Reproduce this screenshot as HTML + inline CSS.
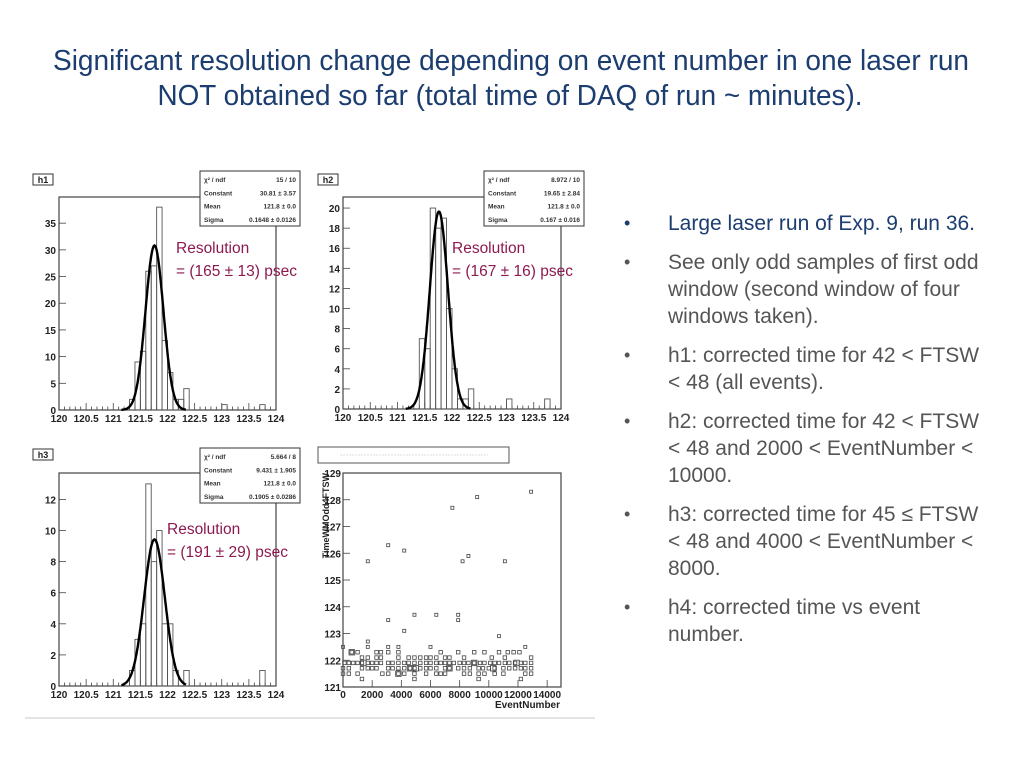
<!DOCTYPE html>
<html><head><meta charset="utf-8"><style>
html,body{margin:0;padding:0;background:#fff;}
body{width:1024px;height:768px;overflow:hidden;position:relative;font-family:"Liberation Sans",sans-serif;}
#bul{position:absolute;left:624px;top:210px;width:366px;font-size:21px;line-height:27px;color:#555;}
#bul .it{position:relative;padding-left:44px;margin-bottom:12px;}
#bul .it:before{content:"\2022";position:absolute;left:0;top:0;font-size:18px;}
</style></head><body>
<svg id="s" width="1024" height="768" style="position:absolute;left:0;top:0">
<text x="511" y="70" text-anchor="middle" font-size="29" fill="#1b3d6f" textLength="916" lengthAdjust="spacingAndGlyphs">Significant resolution change depending on event number in one laser run</text>
<text x="510" y="105" text-anchor="middle" font-size="29" fill="#1b3d6f" textLength="705" lengthAdjust="spacingAndGlyphs">NOT obtained so far (total time of DAQ of run ~ minutes).</text>
<line x1="25" y1="718" x2="595" y2="718" stroke="#e4e4e4" stroke-width="2"/>
</svg>
<div id="bul">
<div class="it" style="color:#1b3d6f">Large laser run of Exp. 9, run 36.</div>
<div class="it">See only odd samples of first odd window (second window of four windows taken).</div>
<div class="it">h1: corrected time for 42 &lt; FTSW &lt; 48 (all events).</div>
<div class="it">h2: corrected time for 42 &lt; FTSW &lt; 48 and 2000 &lt; EventNumber &lt; 10000.</div>
<div class="it">h3: corrected time for 45 ≤ FTSW &lt; 48 and 4000 &lt; EventNumber &lt; 8000.</div>
<div class="it">h4: corrected time vs event number.</div>
</div>
<script>
const h1BinLow=[121.3,121.4,121.5,121.6,121.7,121.8,121.9,122.0,122.1,122.2,122.3,123.0,123.7];
const h1Counts=[2,9,11,26,27,38,13,7,2,2,4,1,1];
const h1Fit=[30.81,121.76,0.1648];
const h1Stats=[["χ² / ndf","15 / 10"],["Constant","30.81 ± 3.57"],["Mean","121.8 ± 0.0"],["Sigma","0.1648 ± 0.0126"]];
const h1YTicks=[0,5,10,15,20,25,30,35];
const h2BinLow=[121.4,121.5,121.6,121.7,121.8,121.9,122.0,122.1,122.2,122.3,123.0,123.7];
const h2Counts=[7,6,20,18,19,10,4,1,1,2,1,1];
const h2Fit=[19.65,121.76,0.167];
const h2Stats=[["χ² / ndf","8.972 / 10"],["Constant","19.65 ± 2.84"],["Mean","121.8 ± 0.0"],["Sigma","0.167 ± 0.016"]];
const h2YTicks=[0,2,4,6,8,10,12,14,16,18,20];
const h3BinLow=[121.3,121.4,121.5,121.6,121.7,121.8,121.9,122.0,122.1,122.3,123.7];
const h3Counts=[1,3,4,13,8,10,4,4,1,1,1];
const h3Fit=[9.431,121.76,0.1905];
const h3Stats=[["χ² / ndf","5.664 / 8"],["Constant","9.431 ± 1.905"],["Mean","121.8 ± 0.0"],["Sigma","0.1905 ± 0.0286"]];
const h3YTicks=[0,2,4,6,8,10,12];
const timeXTicks=[120,120.5,121,121.5,122,122.5,123,123.5,124];
const timeXLabels=["120","120.5","121","121.5","122","122.5","123","123.5","124"];
const h4Outliers=[[1700,125.7],[3100,126.3],[4200,126.1],[7500,127.7],[9200,128.1],[12900,128.3],[8200,125.7],[8600,125.9],[11100,125.7],[3100,123.5],[4200,123.1],[4900,123.7],[6400,123.7],[7900,123.7],[7900,123.5],[10700,122.9],[1700,122.7],[1700,122.5],[3100,122.5],[3800,122.5],[6000,122.5],[12500,122.5],[0,122.5]];
const h4Row1223=[600,1000,2300,2600,3100,3800,6700,7900,9000,9700,10700,11300,11700,12100];
const h4Row1221=[1300,1700,2300,2600,3800,4500,4900,5300,5700,6000,6400,7000,7300,8300,10200,11100,12900];
const h4Row1219=[100,400,700,1000,1300,1700,2000,2300,2600,3100,3400,3800,4200,4500,4900,5300,5700,6000,6400,6700,7000,7300,7600,8000,8300,8600,9000,9400,9700,10100,10400,10700,11100,11400,11800,12200,12500,12900];
const h4Row1217=[0,400,1300,1700,2000,2300,3100,3400,3800,4200,4600,4900,5300,5700,6000,6400,7000,7300,7900,8300,8700,9300,9600,10000,10400,11000,11400,11800,12200,12500,12900];
const h4Row1215=[0,400,1000,2700,3100,3800,4200,4900,5700,6400,6700,7000,8300,8700,9300,9700,10400,11000,12500,12900];
const h4Row1213=[1300,4900,9300,12200];
const h4Big=[[600,122.3],[1400,121.9],[4600,121.7],[5000,121.7],[7300,121.7],[9000,121.9],[10300,121.7],[11900,121.9],[3800,121.5]];
const h4XTicks=[0,2000,4000,6000,8000,10000,12000,14000];
const h4YTicks=[121,122,123,124,125,126,127,128,129];

const NS="http://www.w3.org/2000/svg";
const svg=document.getElementById('s');
function mk(tag,at,parent){const e=document.createElementNS(NS,tag);for(const k in at)e.setAttribute(k,at[k]);(parent||svg).appendChild(e);return e;}
function txt(x,y,s,at,parent){const e=mk('text',Object.assign({x:x,y:y},at),parent);e.textContent=s;return e;}

function frame(name,L,T,R,B){
  const g=mk('g',{});
  
  
  const r=mk('rect',{x:L,y:T,width:R-L,height:B-T,fill:'none',stroke:'#444','stroke-width':1.2},g);
  
  
  return g;
}
function label(name,x,y,w,s){
  const r=mk('rect',{x:x,y:y,width:w,height:11,fill:'#fff',stroke:'#333','stroke-width':1});
  
  
  const t=txt(x+w/2,y+9,s,{'text-anchor':'middle','font-size':9,'font-weight':'bold',fill:'#222'});
  
  
}
function statBox(name,x,y,stats){
  const g=mk('g',{});
  
  
  mk('rect',{x:x,y:y,width:100,height:55,fill:'#fff',stroke:'#333','stroke-width':1},g);
  stats.forEach((r,i)=>{
    const a=txt(x+4,y+11+i*13.3,r[0],{'font-size':6.5,'font-weight':'bold',fill:'#333'},g);
    
    
    const b=txt(x+96,y+11+i*13.3,r[1],{'font-size':6.5,'font-weight':'bold',fill:'#333','text-anchor':'end'},g);
    
    
  });
}
function resText(name,x,y,val){
  const a=txt(x,y,'Resolution',{'font-size':15.5,fill:'#8c1a50'});
  
  
  const b=txt(x,y+23,val,{'font-size':15.5,fill:'#8c1a50'});
  
  
}
function hist(id,L,T,R,B,ymax,binLow,counts,fit,yTicks){
  const g=frame(id+'-plot',L,T,R,B);
  const xs=v=>L+(v-120)/4*(R-L), ys=v=>B-v/ymax*(B-T);
  for(let k=0;k<=40;k++){const v=120+k*0.1,x=xs(v),len=(k%5==0)?7:3.5;
    mk('line',{x1:x,y1:B,x2:x,y2:B-len,stroke:'#444','stroke-width':0.8},g);}
  timeXTicks.forEach((v,i)=>{const t=txt(xs(v),B+12,timeXLabels[i],{'text-anchor':'middle','font-size':10,'font-weight':'bold',fill:'#222'},g);
    });
  yTicks.forEach(v=>{const y=ys(v);
    mk('line',{x1:L,y1:y,x2:L+7,y2:y,stroke:'#444','stroke-width':0.8},g);
    const t=txt(L-3,y+4,String(v),{'text-anchor':'end','font-size':10,'font-weight':'bold',fill:'#222'},g);
    });
  binLow.forEach((v,i)=>{const x0=xs(v),x1=xs(v+0.1),y=ys(counts[i]);
    const r=mk('rect',{x:x0,y:y,width:x1-x0,height:B-y,fill:'none',stroke:'#555','stroke-width':0.9},g);
    });
  let d='';
  for(let v=121.15;v<=122.35;v+=0.01){const y=fit[0]*Math.exp(-0.5*Math.pow((v-fit[1])/fit[2],2));d+=(d?'L':'M')+xs(v).toFixed(1)+','+ys(y).toFixed(1);}
  const p=mk('path',{d:d,fill:'none',stroke:'#000','stroke-width':2.4},g);
  
}
hist('h1',59,197,276,410,39.9,h1BinLow,h1Counts,h1Fit,h1YTicks);
label('h1-label',33,174,20,'h1');statBox('h1-stats',200,171,h1Stats);
resText('h1-resolution',176,253,'= (165 ± 13) psec');
hist('h2',343,197,561,409,21.1,h2BinLow,h2Counts,h2Fit,h2YTicks);
label('h2-label',318,174,20,'h2');statBox('h2-stats',484,171,h2Stats);
resText('h2-resolution',452,253,'= (167 ± 16) psec');
hist('h3',59,473,276,686,13.7,h3BinLow,h3Counts,h3Fit,h3YTicks);
label('h3-label',33,449,20,'h3');statBox('h3-stats',200,448,h3Stats);
resText('h3-resolution',167,534,'= (191 ± 29) psec');

(function(){
  const L=343,T=473,R=561,B=687;
  const g=frame('h4-plot',L,T,R,B);
  const xs=v=>L+v/14950*(R-L), ys=v=>B-(v-121)/8*(B-T);
  const tb=mk('rect',{x:318,y:447,width:191,height:16,fill:'#fff',stroke:'#555','stroke-width':1});
  
  mk('line',{x1:340,y1:455,x2:488,y2:455,stroke:'#bbb','stroke-width':0.6,'stroke-dasharray':'2,1'});
  h4XTicks.forEach(v=>{const x=xs(v);mk('line',{x1:x,y1:B,x2:x,y2:B-7,stroke:'#444','stroke-width':0.8},g);
    const t=txt(x,B+11,String(v),{'text-anchor':'middle','font-size':10,'font-weight':'bold',fill:'#222'},g);
    });
  h4YTicks.forEach(v=>{const y=ys(v);mk('line',{x1:L,y1:y,x2:L+7,y2:y,stroke:'#444','stroke-width':0.8},g);
    const t=txt(L-2,y+4,String(v),{'text-anchor':'end','font-size':10,'font-weight':'bold',fill:'#222'},g);
    });
  const xt=txt(560,708,'EventNumber',{'text-anchor':'end','font-size':10,'font-weight':'bold',fill:'#222'});
  
  const yt=txt(0,0,'TimeWMOdd4FTSW',{'text-anchor':'end','font-size':9,'font-weight':'bold',fill:'#222',transform:'translate(329,473) rotate(-90)'});
  
  function pt(x,y,s){const r=mk('rect',{x:xs(x)-s/2,y:ys(y)-s/2,width:s,height:s,fill:'none',stroke:'#444','stroke-width':0.8},g);
    }
  h4Outliers.forEach(p=>pt(p[0],p[1],3));
  [[h4Row1223,122.3],[h4Row1221,122.1],[h4Row1219,121.9],[h4Row1217,121.7],[h4Row1215,121.5],[h4Row1213,121.3]].forEach(r=>r[0].forEach(x=>pt(x,r[1],3.5)));
  h4Big.forEach(p=>pt(p[0],p[1],5.5));
})();
</script>
</body></html>
